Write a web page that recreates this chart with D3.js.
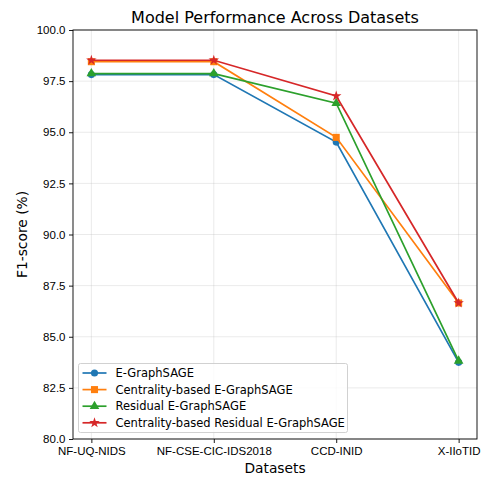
<!DOCTYPE html>
<html>
<head>
<meta charset="utf-8">
<script src="https://cdn.jsdelivr.net/npm/d3@7"></script>
<style>
  body { margin: 0; background: #fff; }
  svg { font-family: "DejaVu Sans", sans-serif; }
</style>
</head>
<body>
<script>
// data
const datasets = ['NF-UQ-NIDS', 'NF-CSE-CIC-IDS2018', 'CCD-INID', 'X-IIoTID'];
const modelNames = ['E-GraphSAGE', 'Centrality-based E-GraphSAGE', 'Residual E-GraphSAGE', 'Centrality-based Residual E-GraphSAGE'];
const eGraphSage = [97.82, 97.82, 94.52, 83.75];
const centralityEGraphSage = [98.45, 98.45, 94.75, 86.65];
const residualEGraphSage = [97.87, 97.87, 96.42, 83.82];
const centralityResidual = [98.52, 98.52, 96.77, 86.65];
const yTicks = [80, 82.5, 85, 87.5, 90, 92.5, 95, 97.5, 100];

const series = [
  { name: modelNames[0], values: eGraphSage, color: '#1f77b4', marker: d3.symbolCircle, size: 40 },
  { name: modelNames[1], values: centralityEGraphSage, color: '#ff7f0e', marker: d3.symbolSquare, size: 50 },
  { name: modelNames[2], values: residualEGraphSage, color: '#2ca02c', marker: d3.symbolTriangle, size: 40 },
  { name: modelNames[3], values: centralityResidual, color: '#d62728', marker: d3.symbolStar, size: 34 }
];

const width = 482, height = 477;
const margin = { top: 30, right: 5, bottom: 38, left: 73 };
const plotW = width - margin.left - margin.right;
const plotH = height - margin.top - margin.bottom;

const svg = d3.select('body').append('svg')
  .attr('width', width)
  .attr('height', height);

const g = svg.append('g').attr('transform', `translate(${margin.left},${margin.top})`);

// category axis with matplotlib style 5% padding
const x = d3.scaleLinear().domain([-0.15, datasets.length - 1 + 0.15]).range([0, plotW]);
const y = d3.scaleLinear().domain([80, 100]).range([plotH, 0]);

// grid
g.append('g').selectAll('line').data(yTicks).enter().append('line')
  .attr('x1', 0).attr('x2', plotW)
  .attr('y1', (d) => y(d)).attr('y2', (d) => y(d))
  .attr('stroke', '#b0b0b0').attr('stroke-opacity', 0.3).attr('stroke-width', 0.9);
g.append('g').selectAll('line').data(datasets).enter().append('line')
  .attr('x1', (d, i) => x(i)).attr('x2', (d, i) => x(i))
  .attr('y1', 0).attr('y2', plotH)
  .attr('stroke', '#b0b0b0').attr('stroke-opacity', 0.3).attr('stroke-width', 0.9);

// axes
const xAxis = d3.axisBottom(x)
  .tickValues(d3.range(datasets.length))
  .tickFormat((i) => datasets[i])
  .tickSizeOuter(0).tickSize(4).tickPadding(3.5);
const yAxis = d3.axisLeft(y)
  .tickValues(yTicks)
  .tickFormat(d3.format('.1f'))
  .tickSizeOuter(0).tickSize(4).tickPadding(3.5);

const gx = g.append('g').attr('transform', `translate(0,${plotH})`).call(xAxis);
const gy = g.append('g').call(yAxis);
[gx, gy].forEach((a) => {
  a.select('.domain').remove();
  a.selectAll('.tick line').attr('stroke', '#000').attr('stroke-width', 0.9);
  a.selectAll('.tick text').attr('fill', '#000').style('font-size', '11.5px');
});

// lines and markers
const line = d3.line().x((d, i) => x(i)).y((d) => y(d));
series.forEach((s) => {
  g.append('path')
    .datum(s.values)
    .attr('d', line)
    .attr('fill', 'none')
    .attr('stroke', s.color)
    .attr('stroke-width', 1.7);
  g.append('g').selectAll('path').data(s.values).enter().append('path')
    .attr('transform', (d, i) => `translate(${x(i)},${y(d)})`)
    .attr('d', d3.symbol().type(s.marker).size(s.size))
    .attr('fill', s.color);
});

// frame
g.append('rect')
  .attr('width', plotW).attr('height', plotH)
  .attr('fill', 'none').attr('stroke', '#000').attr('stroke-width', 0.9);

// legend
const legend = g.append('g').attr('transform', 'translate(5.5,333.5)');
legend.append('rect')
  .attr('width', 269).attr('height', 69)
  .attr('rx', 2)
  .attr('fill', '#fff').attr('fill-opacity', 0.8)
  .attr('stroke', '#ccc').attr('stroke-width', 0.9);
const items = legend.selectAll('g.item').data(series).enter().append('g')
  .attr('class', 'item')
  .attr('transform', (d, i) => `translate(0,${9.5 + i * 16.6})`);
items.append('line')
  .attr('x1', 4).attr('x2', 28)
  .attr('stroke', (d) => d.color).attr('stroke-width', 1.7);
items.append('path')
  .attr('transform', 'translate(16,0)')
  .attr('d', (d) => d3.symbol().type(d.marker).size(d.size)())
  .attr('fill', (d) => d.color);
items.append('text')
  .attr('x', 37).attr('dy', '0.35em')
  .style('font-size', '11.5px')
  .text((d) => d.name);

// titles
svg.append('text')
  .attr('x', margin.left + plotW / 2).attr('y', 23)
  .attr('text-anchor', 'middle')
  .style('font-size', '16px')
  .text('Model Performance Across Datasets');
svg.append('text')
  .attr('x', margin.left + plotW / 2).attr('y', 473)
  .attr('text-anchor', 'middle')
  .style('font-size', '13.8px')
  .text('Datasets');
svg.append('text')
  .attr('transform', `translate(27,${margin.top + plotH / 2}) rotate(-90)`)
  .attr('text-anchor', 'middle')
  .style('font-size', '13.8px')
  .text('F1-score (%)');
</script>
</body>
</html>
